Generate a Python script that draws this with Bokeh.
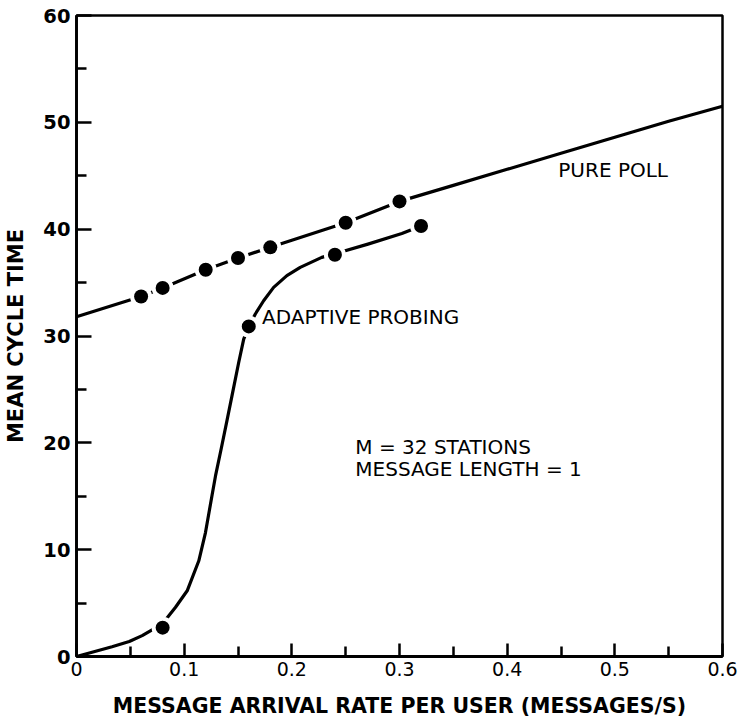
from bokeh.plotting import figure
from bokeh.models import FixedTicker, Label
from bokeh.embed import file_html
from bokeh.resources import INLINE

# Measured points (mean cycle time vs. arrival rate per user)
poll_x = [0.06, 0.08, 0.12, 0.15, 0.18, 0.25, 0.30]
poll_y = [33.7, 34.5, 36.2, 37.3, 38.3, 40.6, 42.6]
probe_x = [0.08, 0.16, 0.24, 0.32]
probe_y = [2.7, 30.9, 37.6, 40.3]

# Analytic curves, sampled along each trace
poll_curve_x = [0.00, 0.06, 0.08, 0.12, 0.15, 0.18, 0.25, 0.30, 0.35, 0.40, 0.45, 0.50, 0.55, 0.60]
poll_curve_y = [31.8, 33.7, 34.5, 36.2, 37.3, 38.3, 40.6, 42.6, 44.1, 45.6, 47.1, 48.6, 50.1, 51.5]
probe_curve_x = [0.000, 0.017, 0.033, 0.049, 0.061, 0.071, 0.080, 0.0918, 0.1028, 0.1136,
                 0.1198, 0.1259, 0.1291, 0.1343, 0.1398, 0.1444, 0.1506, 0.1553, 0.160,
                 0.1661, 0.1738, 0.1831, 0.1954, 0.2078, 0.2278, 0.240, 0.2707, 0.3022, 0.320]
probe_curve_y = [0.0, 0.47, 0.91, 1.40, 1.95, 2.55, 3.1, 4.59, 6.15, 8.96,
                 11.6, 15.1, 16.9, 19.4, 22.1, 24.4, 27.5, 29.7, 30.9,
                 32.06, 33.3, 34.55, 35.65, 36.42, 37.36, 37.7, 38.6, 39.6, 40.3]

x_ticks = [0, 0.1, 0.2, 0.3, 0.4, 0.5, 0.6]
x_tick_labels = ["0", "0.1", "0.2", "0.3", "0.4", "0.5", "0.6"]
x_minor = [0.05, 0.15, 0.25, 0.35, 0.45, 0.55]
y_ticks = [0, 10, 20, 30, 40, 50, 60]
y_tick_labels = ["0", "10", "20", "30", "40", "50", "60"]
y_minor = [5, 15, 25, 35, 45, 55]

FONT = "DejaVu Sans"
INK = "black"

p = figure(width=742, height=725, output_backend="svg", toolbar_location=None,
           x_range=(0, 0.6), y_range=(0, 60),
           min_border_left=76, min_border_right=20, min_border_top=15, min_border_bottom=69)
p.grid.visible = False
p.background_fill_color = "white"
p.border_fill_color = "white"
p.outline_line_color = INK
p.outline_line_width = 2.5

for ax in (p.xaxis[0], p.yaxis[0]):
    ax.axis_line_width = 2.8
    ax.axis_line_color = INK
    ax.major_tick_line_width = 2.5
    ax.minor_tick_line_width = 2.5
    ax.major_tick_out = 0
    ax.minor_tick_out = 0
    ax.major_label_text_font = FONT
    ax.major_label_text_color = INK
    ax.axis_label_text_font = FONT
    ax.axis_label_text_font_style = "bold"
    ax.axis_label_text_color = INK

xa = p.xaxis[0]
xa.ticker = FixedTicker(ticks=x_ticks, minor_ticks=x_minor)
xa.major_label_overrides = dict(zip(x_ticks, x_tick_labels))
xa.major_tick_in = 13
xa.minor_tick_in = 10
xa.major_label_text_font_size = "19px"
xa.major_label_standoff = 5
xa.axis_label = "MESSAGE ARRIVAL RATE PER USER (MESSAGES/S)"
xa.axis_label_text_font_size = "20.5px"
xa.axis_label_standoff = 15

ya = p.yaxis[0]
ya.ticker = FixedTicker(ticks=y_ticks, minor_ticks=y_minor)
ya.major_label_overrides = dict(zip(y_ticks, y_tick_labels))
ya.major_tick_in = 15
ya.minor_tick_in = 10
ya.major_label_text_font_size = "19.5px"
ya.major_label_text_font_style = "bold"
ya.major_label_standoff = 6
ya.axis_label = "MEAN CYCLE TIME"
ya.axis_label_text_font_size = "21px"
ya.axis_label_standoff = 12

# curves
p.line(poll_curve_x, poll_curve_y, line_color=INK, line_width=3.2, line_join="round")
p.line(probe_curve_x, probe_curve_y, line_color=INK, line_width=3.2, line_join="round")

# white halos break the curves around each measured point
for xs, ys in ((poll_x, poll_y), (probe_x, probe_y)):
    p.scatter(xs, ys, size=22, marker="circle", fill_color="white", line_color=None)
for xs, ys in ((poll_x, poll_y), (probe_x, probe_y)):
    p.scatter(xs, ys, size=14, marker="circle", fill_color=INK, line_color=None)

def note(x, y, text):
    p.add_layout(Label(x=x, y=y, text=text, text_font=FONT, text_font_size="20px",
                       text_color=INK, text_baseline="alphabetic", text_align="left"))

note(0.4475, 45.5, "PURE POLL")
note(0.1724, 31.8, "ADAPTIVE PROBING")
note(0.259, 19.63, "M = 32 STATIONS")
note(0.259, 17.55, "MESSAGE LENGTH = 1")

open("out.html", "w").write(file_html(p, INLINE))
